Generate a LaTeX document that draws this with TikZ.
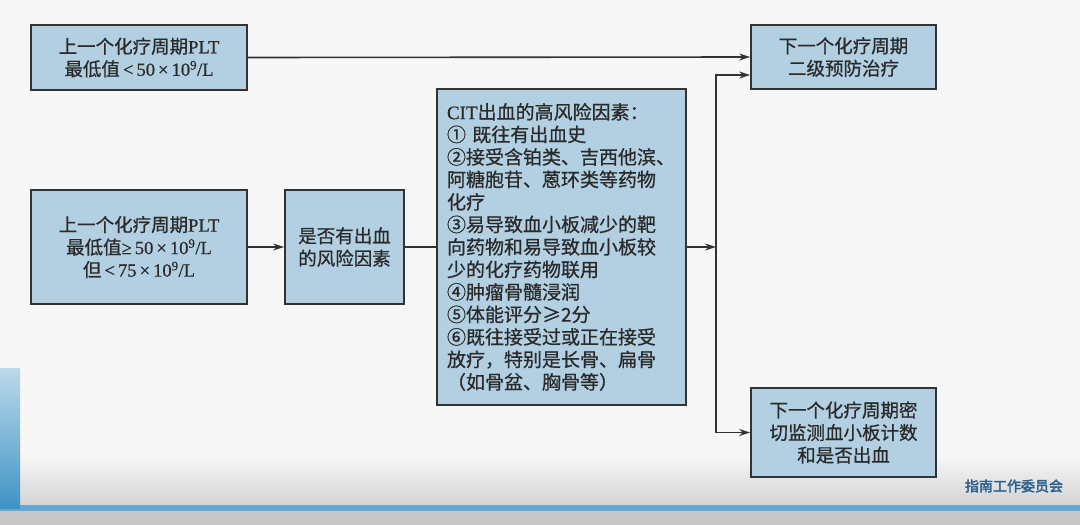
\documentclass[tikz,border=0pt]{standalone}
\usepackage{fontspec}
\setmainfont{Noto Sans CJK SC}[RawFeature={embolden=0.7}]
\newfontfamily\latf{Liberation Serif}[RawFeature={embolden=0.7}]
\newfontfamily\footf{Noto Sans CJK SC}[RawFeature={embolden=2.5}]
\usetikzlibrary{arrows.meta,calc}
\definecolor{bg}{HTML}{F7F7F7}
\definecolor{boxfill}{HTML}{B2D0E2}
\definecolor{boxline}{HTML}{333333}
\definecolor{txt}{HTML}{2A2A2A}
\definecolor{footblue}{HTML}{2B5F8C}
\definecolor{stripblue}{HTML}{3F93C4}
\begin{document}
\begin{tikzpicture}[x=1pt,y=-1pt,
  box/.style={draw=boxline,line width=1.8pt,fill=boxfill,text=txt,inner sep=0pt,align=center,font=\fontsize{18.5}{22.5}\selectfont},
  conn/.style={draw=boxline,line width=1.6pt},
  arr/.style={conn,-{Stealth[length=11pt,width=7pt]}}]
% background
\fill[bg] (0,0) rectangle (1080,525);
\shade[top color=bg,bottom color=black!18] (0,455) rectangle (1080,508);
\fill[black!22] (0,511) rectangle (1080,525);
\fill[stripblue!80] (0,505) rectangle (1080,511);
\shade[top color=stripblue!35,bottom color=stripblue] (0,368) rectangle (20,508);
\useasboundingbox (0,0) rectangle (1080,525);
% nodes
\node[box,minimum width=216pt,minimum height=65pt] (A) at (139,57.5)
  {上一个化疗周期{\latf PLT}\\最低值{\latf\,<\,50\,×\,10\textsuperscript{9}/L}};
\node[box,minimum width=216pt,minimum height=114pt] (B) at (139,247)
  {上一个化疗周期{\latf PLT}\\最低值{\latf ≥\,50\,×\,10\textsuperscript{9}/L}\\但{\latf\,<\,75\,×\,10\textsuperscript{9}/L}};
\node[box,minimum width=119pt,minimum height=114pt] (C) at (344.5,247)
  {是否有出血\\的风险因素};
\node[box,minimum width=249pt,minimum height=316pt,align=left,text width=229pt,font=\fontsize{19}{22.5}\selectfont] (D) at (561.5,247)
  {{\latf CIT}出血的高风险因素：\\
   ① 既往有出血史\\
   ②接受含铂类、吉西他滨、\\
   阿糖胞苷、蒽环类等药物\\
   化疗\\
   ③易导致血小板减少的靶\\
   向药物和易导致血小板较\\
   少的化疗药物联用\\
   ④肿瘤骨髓浸润\\
   ⑤体能评分≥2分\\
   ⑥既往接受过或正在接受\\
   放疗，特别是长骨、扁骨\\
   （如骨盆、胸骨等）};
\node[box,minimum width=185pt,minimum height=64pt] (E) at (843.5,57)
  {下一个化疗周期\\二级预防治疗};
\node[box,minimum width=185pt,minimum height=89pt] (F) at (843.5,432.5)
  {下一个化疗周期密\\切监测血小板计数\\和是否出血};
\node[font=\footf\fontsize{14}{14}\selectfont,text=footblue,inner sep=0pt] (foot) at (1014,486) {指南工作委员会};
% connectors
\coordinate (J) at (716,247);
\draw[arr] (A.east) -- (E.west);
\draw[arr] (B.east) -- (C.west);
\draw[conn] (C.east) -- (D.west);
\draw[arr] (D.east) -- (J);
\draw[arr] (J) -- (J|-0,75) -- ($(E.west)+(0,18)$);
\draw[arr] (J) -- (J|-F.west) -- (F.west);
\end{tikzpicture}
\end{document}
